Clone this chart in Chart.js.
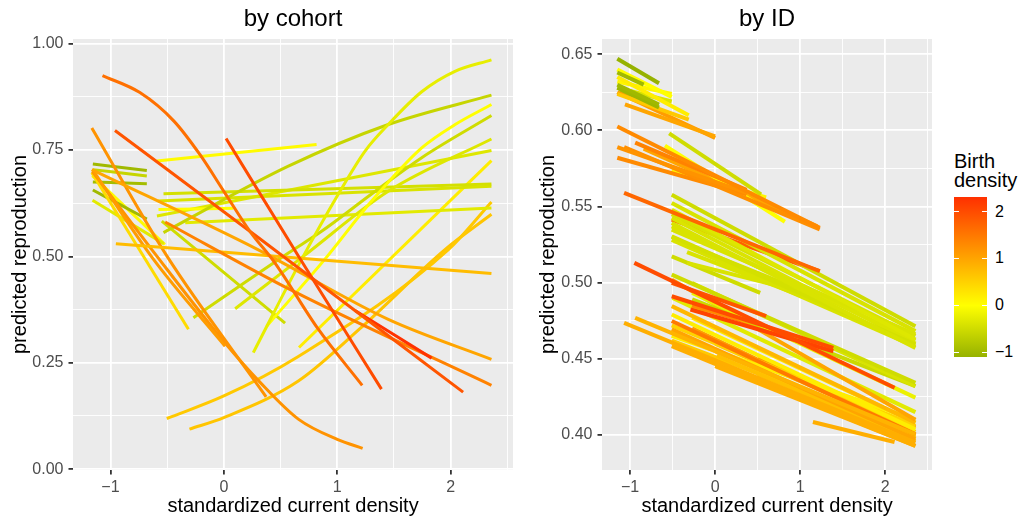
<!DOCTYPE html>
<html>
<head>
<meta charset="utf-8">
<script src="https://cdn.jsdelivr.net/npm/chart.js@4.4.1/dist/chart.umd.min.js"></script>
<style>
    body { margin: 0; background: #fff; width: 1023px; height: 523px; position: relative; overflow: hidden; font-family: 'Liberation Sans', Arial, sans-serif; }
    #cohortChart { position: absolute; left: 0; top: 0; }
    #idChart { position: absolute; left: 520px; top: 0; }
    #legend { position: absolute; left: 0; top: 0; }
    .lg-title { position: absolute; left: 954px; top: 152px; font-size: 20px; line-height: 19px; color: #000; }
    .lg-bar { position: absolute; left: 954px; width: 33px; }
    .lg-tick { position: absolute; width: 5px; height: 1px; background: #fff; }
    .lg-label { position: absolute; left: 995px; font-size: 16px; line-height: 16px; color: #000; }
</style>
</head>
<body>
<canvas id="cohortChart" width="520" height="523"></canvas>
<canvas id="idChart" width="420" height="523"></canvas>
<div id="legend"></div>
<script>
// Skale i etykiety
var xBreaks = [-1, 0, 1, 2];
var xMinor = [-0.5, 0.5, 1.5, 2.5];
var cohortBreaks = [0, 0.25, 0.5, 0.75, 1];
var cohortMinor = [0.125, 0.375, 0.625, 0.875];
var idBreaks = [0.40, 0.45, 0.50, 0.55, 0.60, 0.65];
var idMinor = [0.425, 0.475, 0.525, 0.575, 0.625];
var densityBreaks = [-1, 0, 1, 2];

// Panel "by cohort": punkty [x, y] kazdej krzywej
var cohortLines = [
    [[-1.07, 0.925], [-0.74, 0.885], [-0.44, 0.818], [-0.21, 0.739], [0.0, 0.653], [0.23, 0.559], [0.45, 0.485], [0.83, 0.33], [1.22, 0.197]],
    [[0.02, 0.777], [0.66, 0.50], [1.39, 0.188]],
    [[-0.96, 0.796], [0.3, 0.545], [2.11, 0.181]],
    [[1.157, 0.373], [1.832, 0.261]],
    [[-0.517, 0.581], [0.6, 0.42], [2.36, 0.197]],
    [[-1.164, 0.704], [0.3, 0.516], [1.45, 0.352], [2.36, 0.258]],
    [[-0.952, 0.530], [2.36, 0.460]],
    [[-1.164, 0.802], [-0.5, 0.50], [0.373, 0.170]],
    [[-1.158, 0.704], [-0.62, 0.493], [0.011, 0.289]],
    [[-1.16, 0.70], [-0.635, 0.516], [0.0, 0.30], [0.32, 0.204], [0.66, 0.117], [1.0, 0.07], [1.224, 0.049]],
    [[-1.164, 0.697], [-0.312, 0.329]],
    [[-1.155, 0.717], [-0.679, 0.702]],
    [[-1.155, 0.704], [-0.679, 0.689]],
    [[-1.155, 0.675], [-0.679, 0.671]],
    [[-1.155, 0.656], [-0.679, 0.588]],
    [[-1.158, 0.632], [-0.53, 0.53]],
    [[-1.16, 0.69], [-0.52, 0.528]],
    [[-0.591, 0.724], [0.818, 0.763]],
    [[0.26, 0.274], [0.686, 0.493], [1.009, 0.646], [1.244, 0.747], [1.45, 0.81], [1.745, 0.887], [2.038, 0.935], [2.36, 0.962]],
    [[0.378, 0.336], [0.89, 0.493], [1.30, 0.629], [1.745, 0.755], [2.04, 0.81], [2.36, 0.857]],
    [[-0.268, 0.356], [0.569, 0.508], [0.862, 0.559], [1.30, 0.646], [1.745, 0.732], [2.36, 0.831]],
    [[0.1, 0.377], [0.7, 0.50], [1.45, 0.653], [2.36, 0.776]],
    [[-0.532, 0.556], [0.569, 0.712], [1.45, 0.81], [2.36, 0.879]],
    [[-0.532, 0.647], [2.36, 0.670]],
    [[-0.58, 0.63], [2.36, 0.665]],
    [[-0.576, 0.61], [0.085, 0.613]],
    [[-0.59, 0.595], [2.36, 0.749]],
    [[-0.34, 0.579], [2.36, 0.614]],
    [[-0.503, 0.119], [0.0, 0.172], [0.657, 0.265], [1.98, 0.516], [2.36, 0.628]],
    [[-0.303, 0.094], [0.0, 0.121], [0.657, 0.207], [1.2, 0.33], [1.95, 0.516], [2.36, 0.599]],
    [[0.663, 0.286], [2.36, 0.725]],
    [[-0.547, 0.583], [0.54, 0.343]]
];
var cohortDensity = [1.6, 2.0, 1.9, 2.3, 1.4, 1.0, 0.75, 1.2, 1.1, 1.2, 0.4, -1.0, -0.6, -0.95, -1.0, -0.3,
    0.05, 0.05, -0.25, 0.0, -0.5, -0.35, -0.6, -0.45, -0.4, 0.0, -0.35, -0.3, 0.6, 0.65, 0.2, -0.5];

// Panel "by ID": odcinki [x0, y0, x1, y1]
var idLines = [
    [-1.15, 0.647, -0.66, 0.631], [-1.15, 0.638, -0.84, 0.630], [-1.15, 0.640, -0.51, 0.622], [-1.15, 0.635, -0.31, 0.610],
    [-1.15, 0.630, -0.66, 0.617], [-1.15, 0.628, -0.66, 0.615], [-1.15, 0.628, -0.51, 0.619], [-1.15, 0.624, -0.31, 0.607],
    [-1.06, 0.617, 0.0, 0.596], [-1.15, 0.625, 0.0, 0.595], [-1.15, 0.632, -0.51, 0.624], [-1.12, 0.626, -0.84, 0.6205],
    [-1.15, 0.6025, 1.23, 0.536], [-1.15, 0.589, 0.37, 0.559], [-1.07, 0.589, 1.23, 0.535], [-0.94, 0.592, 0.37, 0.561],
    [-1.15, 0.582, 0.37, 0.558], [-0.59, 0.590, 0.82, 0.540], [-0.54, 0.598, 0.54, 0.558], [-0.51, 0.574, 0.6, 0.556],
    [-0.84, 0.588, 1.2, 0.537], [-1.07, 0.559, 1.23, 0.5075],
    [-0.51, 0.5577, 2.355, 0.4714], [-0.51, 0.5523, 2.355, 0.4682], [-0.51, 0.5479, 2.355, 0.4627], [-0.51, 0.5392, 2.355, 0.4572],
    [-0.51, 0.5348, 2.355, 0.466], [-0.51, 0.5304, 2.355, 0.4594], [-0.33, 0.5200, 1.23, 0.4867], [-0.33, 0.5130, 1.23, 0.4911],
    [-0.51, 0.5173, 0.53, 0.4933], [-0.51, 0.5300, 1.5, 0.480], [-0.51, 0.5425, 2.355, 0.460], [-0.51, 0.545, 2.355, 0.465],
    [-0.51, 0.537, 2.355, 0.462], [-0.33, 0.525, 1.23, 0.490], [-0.51, 0.528, 2.355, 0.458], [-0.51, 0.5414, 1.23, 0.5075],
    [-0.95, 0.513, 2.11, 0.431], [-0.51, 0.4911, 1.39, 0.4572], [-0.29, 0.4824, 1.39, 0.455], [-0.51, 0.4998, 0.6, 0.478],
    [-1.07, 0.4736, 2.355, 0.395], [-0.94, 0.4769, 2.355, 0.4004],
    [-0.51, 0.5053, 2.355, 0.4343], [-0.27, 0.4998, 2.355, 0.4321], [-0.27, 0.4933, 2.355, 0.4245], [-0.27, 0.489, 2.355, 0.432],
    [-0.51, 0.502, 2.355, 0.41], [-0.51, 0.4846, 2.355, 0.4081], [-0.51, 0.4791, 2.355, 0.4037], [-0.51, 0.4748, 2.355, 0.4004],
    [-0.51, 0.4693, 2.355, 0.3972], [-0.51, 0.4583, 2.355, 0.3928], [0.0, 0.4452, 2.355, 0.3928], [0.02, 0.452, 2.355, 0.396],
    [1.15, 0.4085, 2.11, 0.3954], [-0.51, 0.465, 2.355, 0.41], [-0.51, 0.472, 2.355, 0.406], [0.0, 0.46, 2.355, 0.402],
    [-0.27, 0.477, 2.355, 0.408], [0.5, 0.45, 2.355, 0.405], [-0.51, 0.462, 1.0, 0.43], [-0.27, 0.485, 1.2, 0.46],
    [-0.5, 0.49, 2.355, 0.415], [0.0, 0.455, 2.355, 0.399], [-0.27, 0.470, 2.355, 0.400], [0.5, 0.440, 2.355, 0.398]
];
var idDensity = [
    -1.1, -1.0, 0.0, 0.2, -1.0, -1.05, -0.4, 0.6, 1.0, 1.1, 0.1, -0.9,
    1.3, 1.2, 1.25, 1.4, 1.3, 0.0, -0.5, 0.1, 1.0, 1.7,
    -0.5, -0.4, -0.35, -0.4, -0.4, -0.45, -0.4, -0.4, -0.5, -0.4, -0.38, -0.42,
    -0.4, -0.45, -0.4, 1.8,
    2.0, 2.0, 2.1, 1.9, 0.9, 0.85,
    -0.5, -0.4, -0.2, -0.55, 1.0, 0.8, 0.2, 1.5, 1.0, 0.9, 0.9, 0.7,
    0.9, 0.2, 0.5, 0.6, 0.3, 1.2, 0.6, 1.3, -0.3, 0.8, 1.1, 0.6
];

// Kolory skali "Birth density"
var palette = [[-1.1, [150, 178, 0]], [0, [255, 255, 0]], [1, [255, 165, 0]], [2.32, [255, 48, 0]]];
var FONT = "'Liberation Sans', Arial, sans-serif";

function densityColour(v) {
    if (v <= palette[0][0]) v = palette[0][0];
    if (v >= palette[palette.length - 1][0]) v = palette[palette.length - 1][0];
    for (var i = 0; i < palette.length - 1; i++) {
        var a = palette[i], b = palette[i + 1];
        if (v >= a[0] && v <= b[0]) {
            var t = (v - a[0]) / (b[0] - a[0]);
            var c = a[1].map(function (k, j) { return Math.round(k + (b[1][j] - k) * t); });
            return 'rgb(' + c.join(',') + ')';
        }
    }
}

function isIn(v, list) {
    return list.some(function (b) { return Math.abs(b - v) < 1e-9; });
}

function minus(s) {
    return String(s).replace('-', '\u2212');
}

// Szare tlo panelu
var panelBg = {
    id: 'panelBg',
    beforeDraw: function (chart) {
        var a = chart.chartArea, c = chart.ctx;
        c.save();
        c.fillStyle = '#EBEBEB';
        c.fillRect(a.left, a.top, a.right - a.left, a.bottom - a.top);
        c.restore();
    }
};

function axisOpts(breaks, minor, min, max, fmt, pad) {
    return {
        type: 'linear',
        min: min,
        max: max,
        afterBuildTicks: function (s) {
            s.ticks = breaks.concat(minor).sort(function (a, b) { return a - b; })
                .map(function (v) { return { value: v }; });
        },
        ticks: {
            autoSkip: false,
            maxRotation: 0,
            color: '#4D4D4D',
            font: { family: FONT, size: 16 },
            padding: pad,
            callback: function (v) { return isIn(v, breaks) ? fmt(v) : ''; }
        },
        grid: {
            color: '#FFFFFF',
            lineWidth: function (ctx) { return isIn(ctx.tick.value, breaks) ? 1.8 : 0.9; },
            tickColor: function (ctx) { return isIn(ctx.tick.value, breaks) ? '#333333' : 'rgba(0,0,0,0)'; },
            tickWidth: 1.8,
            tickLength: 4.5
        },
        border: { display: false }
    };
}

function makeChart(id, datasets, title, yBreaks, yMinor, yMin, yMax, padLeft, yWidth, padRight) {
    var x = axisOpts(xBreaks, xMinor, -1.33, 2.55, function (v) { return minus(v); }, 3);
    x.title = { display: true, text: 'standardized current density', color: '#000', font: { family: FONT, size: 20 }, padding: 0 };
    x.afterFit = function (s) { s.height = 48; };
    var y = axisOpts(yBreaks, yMinor, yMin, yMax, function (v) { return v.toFixed(2); }, 5);
    y.title = { display: true, text: 'predicted reproduction', color: '#000', font: { family: FONT, size: 20 }, padding: 0 };
    y.afterFit = function (s) { s.width = yWidth; };

    return new Chart(document.getElementById(id), {
        type: 'scatter',
        data: { datasets: datasets },
        options: {
            responsive: false,
            animation: false,
            layout: { padding: { left: padLeft, right: padRight, top: 0, bottom: 5 } },
            scales: { x: x, y: y },
            plugins: {
                legend: { display: false },
                tooltip: { enabled: false },
                title: {
                    display: true, text: title, fullSize: false, color: '#000',
                    font: { family: FONT, size: 24, weight: 'normal' },
                    padding: { top: 5, bottom: 5.2 }
                }
            }
        },
        plugins: [panelBg]
    });
}

var cohortSets = cohortLines.map(function (pts, i) {
    return {
        data: pts.map(function (p) { return { x: p[0], y: p[1] }; }),
        showLine: true,
        borderColor: densityColour(cohortDensity[i]),
        borderWidth: 3,
        pointRadius: 0,
        cubicInterpolationMode: 'monotone',
        fill: false
    };
});

var idSets = idLines.map(function (l, i) {
    return {
        data: [{ x: l[0], y: l[1] }, { x: l[2], y: l[3] }],
        showLine: true,
        borderColor: densityColour(idDensity[i]),
        borderWidth: 4,
        pointRadius: 0,
        fill: false
    };
});

makeChart('cohortChart', cohortSets, 'by cohort', cohortBreaks, cohortMinor, -0.002, 1.011, 8, 65, 7);
makeChart('idChart', idSets, 'by ID', idBreaks, idMinor, 0.377, 0.66, 16, 66, 8);

// Legenda - pasek kolorow
var barTop = 196.7, barBottom = 356.7;
var lo = palette[0][0], hi = palette[palette.length - 1][0];
function barY(v) { return barTop + (hi - v) / (hi - lo) * (barBottom - barTop); }

var legend = document.getElementById('legend');
var html = '<div class="lg-title">Birth<br>density</div>';
var stops = palette.map(function (p) {
    return densityColour(p[0]) + ' ' + ((p[0] - lo) / (hi - lo) * 100).toFixed(2) + '%';
});
html += '<div class="lg-bar" style="top:' + barTop + 'px;height:' + (barBottom - barTop) + 'px;background:linear-gradient(to top,' + stops.join(',') + ')"></div>';
densityBreaks.forEach(function (v) {
    var yy = barY(v);
    html += '<div class="lg-tick" style="left:954px;top:' + (yy - 0.5) + 'px"></div>';
    html += '<div class="lg-tick" style="left:982px;top:' + (yy - 0.5) + 'px"></div>';
    html += '<div class="lg-label" style="top:' + (yy - 8) + 'px">' + minus(v) + '</div>';
});
legend.innerHTML = html;
</script>
</body>
</html>
